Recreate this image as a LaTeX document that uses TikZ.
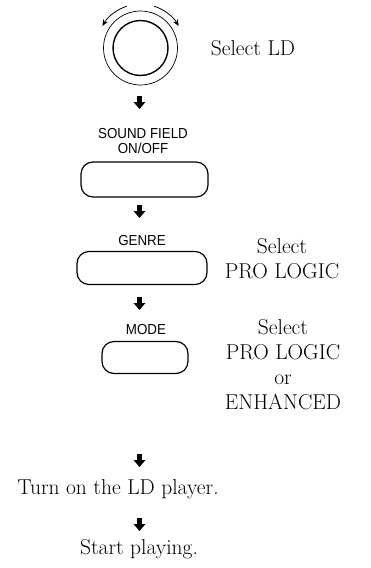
\documentclass[tikz,border=0pt]{standalone}
\usepackage{fontspec}
\usepackage{tikz}
\usetikzlibrary{arrows.meta}
\newfontfamily\btnfont[FakeStretch=0.92]{Liberation Sans}

\tikzset{
  btn/.style={draw=black,line width=1.2pt,rounded corners=12pt,inner sep=0pt},
  keylabel/.style={font=\btnfont\fontsize{14.5}{14.5}\selectfont,align=center,inner sep=0pt},
  steptext/.style={font=\fontsize{21.5}{25}\selectfont,align=center,inner sep=0pt},
  blk/.style={line width=4.6pt,-{Triangle[width=11.5pt,length=7pt]}},
  turn/.style={line width=0.8pt,-{Stealth[length=6.5pt,width=5.5pt]}}
}

\begin{document}
\begin{tikzpicture}[x=1pt,y=1pt]
\useasboundingbox (0,0) rectangle (371,-568);
% knob:
\node[circle,draw=black,line width=0.7pt,minimum size=74pt,inner sep=0pt] (knob) at (140.5,-48) {};
\path[draw=black,line width=1.4pt] (knob.center) circle (27.5);
\draw[turn] (knob.center) ++(108:44) arc (108:150:44);
\draw[turn] (knob.center) ++(72:44) arc (72:30:44);
\node[steptext] (selld) at (253,-48) {Select LD};
% buttons:
\node[keylabel] (sflabel) at (143,-141) {SOUND FIELD\\ON/OFF};
\node[btn,minimum width=127pt,minimum height=35pt] (sfbtn) at (144.5,-179.5) {};
\node[keylabel] (genrelabel) at (142,-241) {GENRE};
\node[btn,minimum width=130pt,minimum height=33pt] (genrebtn) at (142,-268) {};
\node[steptext] (selpro) at (282,-259) {Select\\PRO LOGIC};
\node[keylabel] (modelabel) at (146,-330) {MODE};
\node[btn,minimum width=86pt,minimum height=32pt] (modebtn) at (145,-357.5) {};
\node[steptext] (selmode) at (283,-365) {Select\\PRO LOGIC\\or\\ENHANCED};
% last steps:
\node[steptext] (turnon) at (118,-489) {Turn on the LD player.};
\node[steptext] (start) at (139,-549) {Start playing.};
% arrows:
\coordinate (a1) at (139.5,-96);  \coordinate (a1e) at (139.5,-109);
\coordinate (a2) at (139.5,-205); \coordinate (a2e) at (139.5,-218);
\coordinate (a3) at (139.5,-297); \coordinate (a3e) at (139.5,-310);
\coordinate (a4) at (139.5,-454); \coordinate (a4e) at (139.5,-467);
\coordinate (a5) at (139.5,-518); \coordinate (a5e) at (139.5,-531);
\draw[blk] (a1) -- (a1e);
\draw[blk] (a2) -- (a2e);
\draw[blk] (a3) -- (a3e);
\draw[blk] (a4) -- (a4e);
\draw[blk] (a5) -- (a5e);
\end{tikzpicture}
\end{document}
